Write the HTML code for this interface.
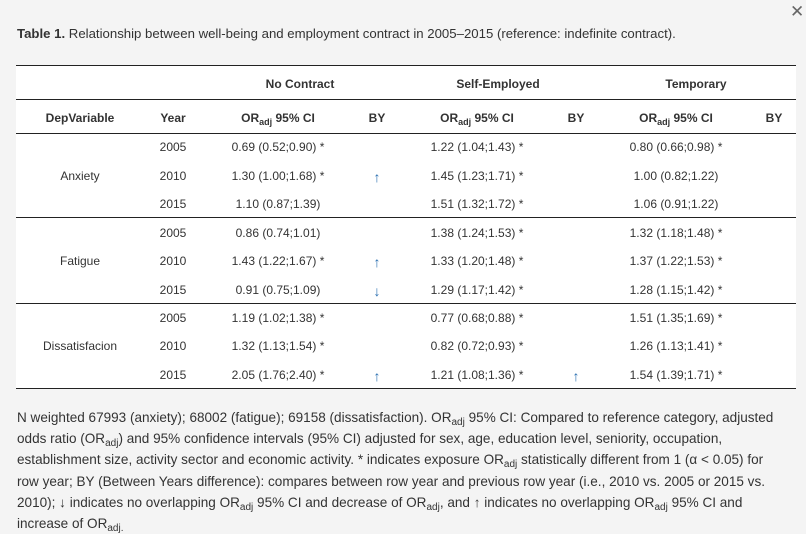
<!DOCTYPE html>
<html><head><meta charset="utf-8"><style>
body{margin:0;width:806px;height:533px;background:#f4f4f4;font-family:"Liberation Sans",sans-serif;color:#333;position:relative;overflow:hidden}
.t{position:absolute;font-size:12px;white-space:nowrap;transform:translate(-50%,-50%)}
.b{font-weight:bold}
.l{position:absolute;left:16px;width:780px;height:1px;background:#222}
sub{font-size:9px;vertical-align:-3px;line-height:0}
#box{position:absolute;left:16px;top:65px;width:780px;height:324px;background:#fff}
.cap{position:absolute;left:17px;top:26px;font-size:13.2px}
.x{position:absolute;left:790px;top:2px;font-size:17px;color:#666}
.foot{position:absolute;left:17px;top:407px;width:766px;font-size:13.55px;line-height:21.2px}
.foot sub{font-size:10px}
.ar{color:#2a6fb0;font-size:14px}
</style></head><body>
<div class="x">✕</div>
<div class="cap"><b>Table 1.</b> Relationship between well-being and employment contract in 2005–2015 (reference: indefinite contract).</div>
<div id="box"></div>
<div class="l" style="top:65px"></div>
<div class="l" style="top:99px"></div>
<div class="l" style="top:133px"></div>
<div class="l" style="top:217px"></div>
<div class="l" style="top:303px"></div>
<div class="l" style="top:388px"></div>
<div class="t b" style="left:300px;top:84px">No Contract</div>
<div class="t b" style="left:498px;top:84px">Self-Employed</div>
<div class="t b" style="left:696px;top:84px">Temporary</div>
<div class="t b" style="left:80px;top:118px">DepVariable</div>
<div class="t b" style="left:173px;top:118px">Year</div>
<div class="t b" style="left:278px;top:118px">OR<sub>adj</sub> 95% CI</div>
<div class="t b" style="left:377px;top:118px">BY</div>
<div class="t b" style="left:477px;top:118px">OR<sub>adj</sub> 95% CI</div>
<div class="t b" style="left:576px;top:118px">BY</div>
<div class="t b" style="left:676px;top:118px">OR<sub>adj</sub> 95% CI</div>
<div class="t b" style="left:774px;top:118px">BY</div>

<div class="t" style="left:80px;top:176px">Anxiety</div>
<div class="t" style="left:80px;top:261px">Fatigue</div>
<div class="t" style="left:80px;top:346px">Dissatisfacion</div>

<div class="t" style="left:173px;top:147px">2005</div><div class="t" style="left:278px;top:147px">0.69 (0.52;0.90) *</div><div class="t" style="left:477px;top:147px">1.22 (1.04;1.43) *</div><div class="t" style="left:676px;top:147px">0.80 (0.66;0.98) *</div>
<div class="t" style="left:173px;top:176px">2010</div><div class="t" style="left:278px;top:176px">1.30 (1.00;1.68) *</div><div class="t ar" style="left:377px;top:177px">↑</div><div class="t" style="left:477px;top:176px">1.45 (1.23;1.71) *</div><div class="t" style="left:676px;top:176px">1.00 (0.82;1.22)</div>
<div class="t" style="left:173px;top:204px">2015</div><div class="t" style="left:278px;top:204px">1.10 (0.87;1.39)</div><div class="t" style="left:477px;top:204px">1.51 (1.32;1.72) *</div><div class="t" style="left:676px;top:204px">1.06 (0.91;1.22)</div>

<div class="t" style="left:173px;top:233px">2005</div><div class="t" style="left:278px;top:233px">0.86 (0.74;1.01)</div><div class="t" style="left:477px;top:233px">1.38 (1.24;1.53) *</div><div class="t" style="left:676px;top:233px">1.32 (1.18;1.48) *</div>
<div class="t" style="left:173px;top:261px">2010</div><div class="t" style="left:278px;top:261px">1.43 (1.22;1.67) *</div><div class="t ar" style="left:377px;top:262px">↑</div><div class="t" style="left:477px;top:261px">1.33 (1.20;1.48) *</div><div class="t" style="left:676px;top:261px">1.37 (1.22;1.53) *</div>
<div class="t" style="left:173px;top:290px">2015</div><div class="t" style="left:278px;top:290px">0.91 (0.75;1.09)</div><div class="t ar" style="left:377px;top:291px">↓</div><div class="t" style="left:477px;top:290px">1.29 (1.17;1.42) *</div><div class="t" style="left:676px;top:290px">1.28 (1.15;1.42) *</div>

<div class="t" style="left:173px;top:318px">2005</div><div class="t" style="left:278px;top:318px">1.19 (1.02;1.38) *</div><div class="t" style="left:477px;top:318px">0.77 (0.68;0.88) *</div><div class="t" style="left:676px;top:318px">1.51 (1.35;1.69) *</div>
<div class="t" style="left:173px;top:346px">2010</div><div class="t" style="left:278px;top:346px">1.32 (1.13;1.54) *</div><div class="t" style="left:477px;top:346px">0.82 (0.72;0.93) *</div><div class="t" style="left:676px;top:346px">1.26 (1.13;1.41) *</div>
<div class="t" style="left:173px;top:375px">2015</div><div class="t" style="left:278px;top:375px">2.05 (1.76;2.40) *</div><div class="t ar" style="left:377px;top:376px">↑</div><div class="t" style="left:477px;top:375px">1.21 (1.08;1.36) *</div><div class="t ar" style="left:576px;top:376px">↑</div><div class="t" style="left:676px;top:375px">1.54 (1.39;1.71) *</div>

<div class="foot">N weighted 67993 (anxiety); 68002 (fatigue); 69158 (dissatisfaction). OR<sub>adj</sub> 95% CI: Compared to reference category, adjusted odds ratio (OR<sub>adj</sub>) and 95% confidence intervals (95% CI) adjusted for sex, age, education level, seniority, occupation, establishment size, activity sector and economic activity. * indicates exposure OR<sub>adj</sub> statistically different from 1 (α &lt; 0.05) for row year; BY (Between Years difference): compares between row year and previous row year (i.e., 2010 vs. 2005 or 2015 vs. 2010); ↓ indicates no overlapping OR<sub>adj</sub> 95% CI and decrease of OR<sub>adj</sub>, and ↑ indicates no overlapping OR<sub>adj</sub> 95% CI and increase of OR<sub>adj.</sub></div>
</body></html>
